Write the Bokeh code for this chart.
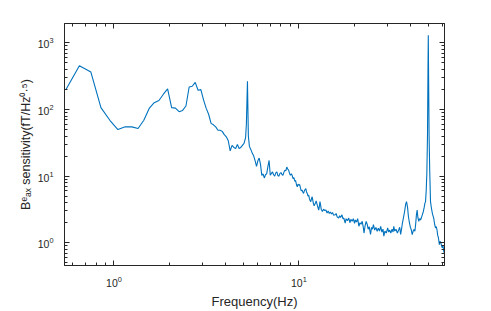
from bokeh.plotting import figure
from bokeh.models import LogAxis, FixedTicker, ColumnDataSource, Range1d
from bokeh.embed import file_html
from bokeh.resources import INLINE

# ---------------- data ----------------
freq = [0.55, 0.65, 0.75, 0.85, 0.95, 1.05, 1.15, 1.25, 1.35, 1.45, 1.55, 1.65, 1.75, 1.85, 1.95,
        2.05, 2.15, 2.25, 2.35, 2.45, 2.55, 2.65, 2.75, 2.85, 2.95, 3.05, 3.15, 3.25, 3.35, 3.45,
        3.55, 3.65, 3.75, 3.85, 3.95, 4.05, 4.15, 4.25, 4.35, 4.45, 4.55, 4.65, 4.75, 4.85, 4.95,
        5.05, 5.15, 5.2, 5.27, 5.33, 5.4, 5.5, 5.6, 5.7, 5.8, 5.9, 6.0, 6.1, 6.2, 6.3,
        6.4, 6.5, 6.6, 6.7, 6.8, 6.9, 7.0, 7.1, 7.2, 7.3, 7.4, 7.5, 7.6, 7.7, 7.8,
        7.9, 8.0, 8.1, 8.2, 8.3, 8.4, 8.5, 8.6, 8.7, 8.8, 8.9, 9.0, 9.1, 9.2, 9.3,
        9.4, 9.5, 9.6, 9.7, 9.8, 9.9, 10.0, 10.1, 10.2, 10.3, 10.4, 10.5, 10.6, 10.7, 10.8,
        10.9, 11.0, 11.1, 11.2, 11.3, 11.4, 11.5, 11.6, 11.7, 11.8, 11.9, 12.0, 12.1, 12.2, 12.3,
        12.4, 12.5, 12.6, 12.8, 12.9, 13.0, 13.1, 13.2, 13.4, 13.6, 13.8, 14.0, 14.2, 14.4, 14.6,
        14.8, 15.0, 15.2, 15.4, 15.7, 15.9, 16.1, 16.4, 16.6, 16.8, 17.1, 17.3, 17.5, 17.8, 18.0,
        18.3, 18.6, 18.9, 19.1, 19.4, 19.7, 20.0, 20.2, 20.5, 20.8, 21.1, 21.4, 21.7, 22.0, 22.3,
        22.5, 22.8, 23.1, 23.4, 23.7, 24.0, 24.4, 24.7, 25.0, 25.3, 25.7, 26.1, 26.5, 26.9, 27.3,
        27.7, 28.1, 28.5, 28.8, 29.2, 29.7, 30.2, 30.6, 31.0, 31.4, 31.9, 32.3, 32.6, 33.0, 33.5,
        34.1, 34.6, 35.1, 35.5, 35.9, 36.3, 36.8, 37.3, 37.8, 38.2, 38.7, 39.1, 39.6, 40.1, 40.5,
        41.0, 41.5, 41.9, 42.4, 42.8, 43.2, 43.6, 44.0, 44.5, 45.0, 45.5, 45.9, 46.5, 47.1, 47.6,
        48.0, 48.4, 48.8, 49.2, 49.6, 49.9, 50.1, 50.3, 50.6, 51.0, 51.5, 52.1, 52.8, 53.6, 54.2,
        54.8, 55.3, 55.8, 56.3, 56.8, 57.5, 58.0, 58.6, 59.1, 59.6, 60.2, 60.7, 61.0]
sensitivity = [200, 455, 365, 107, 69, 50, 55, 55, 52, 69, 104, 127, 137, 170, 204,
               107, 105, 93, 97, 113, 218, 224, 256, 195, 199, 140, 105, 85, 62, 59,
               55, 49, 49, 47, 42, 39, 34, 24, 29, 27, 26, 30, 26, 27, 29,
               31, 38, 60, 265, 40, 28, 25, 22, 20, 17, 14, 17, 18.7, 15, 10.3,
               10.8, 9.4, 10.5, 10.9, 14, 17.2, 10.3, 11, 11.6, 10.5, 10.0, 11.2, 11.6, 10.2, 10.0,
               11.0, 11.3, 10.6, 10.3, 11.5, 12.3, 12.0, 13.7, 12.8, 12.3, 11.0, 10.3, 10.9, 10.2, 9.2,
               9.5, 8.4, 8.6, 7.5, 6.9, 7.6, 7.3, 7.5, 6.6, 6.0, 6.2, 5.8, 5.5, 6.0, 6.3,
               6.5, 5.8, 5.5, 5.0, 5.2, 4.6, 4.3, 4.15, 4.6, 4.9, 4.3, 3.8, 3.6, 3.8, 4.0,
               4.24, 3.9, 3.6, 3.1, 3.5, 4.15, 3.7, 3.2, 2.95, 3.2, 3.05, 3.1, 2.8, 3.0, 2.75,
               2.9, 2.7, 2.85, 2.6, 2.63, 2.75, 2.45, 2.35, 2.55, 2.4, 2.63, 2.3, 2.35, 1.98, 2.3,
               2.15, 2.35, 2.0, 2.25, 2.1, 2.3, 1.95, 2.2, 2.05, 2.3, 1.77, 2.0, 1.9, 2.1, 1.7,
               1.4, 1.8, 2.1, 1.9, 1.6, 1.75, 1.33, 1.7, 1.6, 1.87, 1.55, 1.7, 1.49, 1.65, 1.5,
               1.77, 1.45, 1.6, 1.26, 1.5, 1.4, 1.67, 1.45, 1.55, 1.4, 1.6, 1.45, 1.77, 1.5, 1.6,
               1.4, 1.55, 1.71, 1.33, 1.6, 1.98, 2.4, 2.95, 3.8, 4.15, 3.4, 2.5, 2.0, 1.7, 1.58,
               1.33, 1.5, 1.58, 1.49, 1.9, 2.6, 3.1, 2.4, 2.1, 2.3, 2.2, 2.35, 2.63, 2.95, 3.4,
               3.9, 4.15, 6, 11, 40, 400, 1306, 300, 40, 12, 4.15, 3.3, 2.7, 2.35, 1.9,
               1.67, 1.75, 1.58, 1.3, 1.2, 0.94, 1.05, 1.0, 0.9, 0.84, 0.9, 0.75, 0.71]

x_major_ticks = [1, 10]
x_minor_ticks = [0.6, 0.7, 0.8, 0.9, 2, 3, 4, 5, 6, 7, 8, 9, 20, 30, 40, 50, 60]
y_major_ticks = [1, 10, 100, 1000]
y_minor_ticks = [0.5, 0.6, 0.7, 0.8, 0.9, 2, 3, 4, 5, 6, 7, 8, 9, 20, 30, 40, 50, 60, 70, 80, 90,
                 200, 300, 400, 500, 600, 700, 800, 900]
x_label = "Frequency(Hz)"
y_label = "B\u1d49\u2090\u2093 sensitivity(fT/Hz\u2070\u00b7\u2075)"

# ---------------- styling ----------------
FONT = "Liberation Sans"
AX = "#262626"
LINE = "#0072BD"
X0, X1 = 0.54, 61.3
Y0, Y1 = 0.456, 1958
L, R, T, B = 64, 444, 23, 268   # frame edges (page px)

p = figure(width=483, height=311, x_axis_type="log", y_axis_type="log",
           x_range=Range1d(X0, X1), y_range=Range1d(Y0, Y1),
           output_backend="svg", toolbar_location=None,
           min_border_left=L, min_border_right=483 - R, min_border_top=T,
           min_border_bottom=311 - B)
p.xgrid.visible = False
p.ygrid.visible = False
p.outline_line_color = AX
p.background_fill_color = "white"
p.border_fill_color = "white"

src = ColumnDataSource(dict(f=freq, v=sensitivity))
p.line("f", "v", source=src, line_color=LINE, line_width=1.1)


def style(ax, ticks, minor, show_labels, standoff=8):
    ax.ticker = FixedTicker(ticks=ticks, minor_ticks=minor)
    ax.axis_line_color = AX
    ax.major_tick_line_color = AX
    ax.minor_tick_line_color = AX
    ax.major_tick_in = 5
    ax.major_tick_out = 0
    ax.minor_tick_in = 3
    ax.minor_tick_out = 0
    ax.major_label_text_font = FONT
    ax.major_label_text_color = AX
    if show_labels:
        ax.major_label_text_font_size = "10.5px"
        ax.major_label_standoff = standoff
    else:
        ax.major_label_text_font_size = "1px"
        ax.major_label_text_alpha = 0
        ax.major_label_standoff = 0


def label(ax, text, size, standoff):
    ax.axis_label = text
    ax.axis_label_text_font = FONT
    ax.axis_label_text_font_style = "normal"
    ax.axis_label_text_font_size = size
    ax.axis_label_text_color = AX
    ax.axis_label_standoff = standoff


style(p.xaxis[0], x_major_ticks, x_minor_ticks, True, 10)
style(p.yaxis[0], y_major_ticks, y_minor_ticks, True, 11)
label(p.xaxis[0], x_label, "13px", 4)
label(p.yaxis[0], y_label, "12.5px", 2)

top = LogAxis()
right = LogAxis()
style(top, x_major_ticks, x_minor_ticks, False)
style(right, y_major_ticks, y_minor_ticks, False)
p.add_layout(top, "above")
p.add_layout(right, "right")

open("out.html", "w").write(file_html(p, INLINE))
